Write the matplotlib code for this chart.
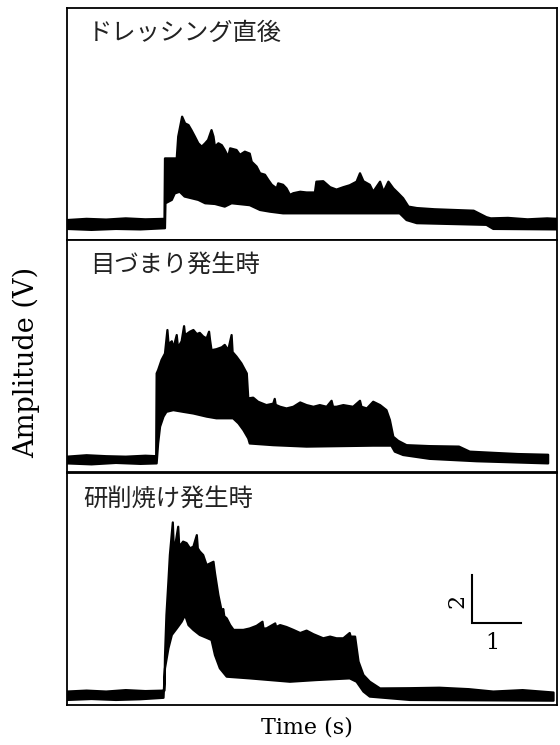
import matplotlib
matplotlib.use("Agg")
import matplotlib.pyplot as plt
import numpy as np

# --- data (time in s, amplitude in V) ---
titles = ["ドレッシング直後", "目づまり発生時", "研削焼け発生時"]

# panel 1: right after dressing (upper / lower envelope of the signal)
t1_up = [0, 0.4, 0.8, 1.2, 1.6, 1.99, 2.00, 2.24, 2.27, 2.35, 2.41, 2.48, 2.54, 2.61, 2.68,
         2.75, 2.82, 2.88, 2.95, 2.99, 3.02, 3.09, 3.16, 3.22, 3.29, 3.33, 3.46, 3.53, 3.63,
         3.73, 3.77, 3.87, 3.94, 4.04, 4.11, 4.18, 4.28, 4.31, 4.41, 4.48, 4.55, 4.62, 4.76,
         4.89, 5.06, 5.09, 5.23, 5.37, 5.50, 5.64, 5.77, 5.91, 5.98, 6.05, 6.18, 6.25, 6.39,
         6.46, 6.56, 6.66, 6.76, 6.86, 6.97, 7.14, 7.50, 7.90, 8.30, 8.56, 8.65, 9.00, 9.40,
         9.80, 10.0]
v1_up = [0.83, 0.88, 0.85, 0.90, 0.86, 0.88, 3.40, 3.40, 4.31, 5.14, 4.86, 4.79, 4.58, 4.31, 4.03,
         3.89, 4.03, 4.17, 4.58, 4.31, 3.89, 4.03, 3.95, 3.75, 3.47, 3.82, 3.75, 3.55, 3.68,
         3.60, 3.26, 3.06, 2.78, 2.72, 2.50, 2.30, 2.15, 2.36, 2.30, 2.15, 1.88, 1.95, 2.01,
         1.98, 1.98, 2.43, 2.45, 2.20, 2.10, 2.20, 2.28, 2.43, 2.78, 2.45, 2.30, 2.01, 2.43,
         2.01, 2.43, 2.15, 1.95, 1.74, 1.39, 1.33, 1.28, 1.25, 1.22, 0.95, 0.90, 0.92, 0.86,
         0.90, 0.88]
t1_lo = [0, 0.5, 1.0, 1.5, 2.00, 2.01, 2.14, 2.20, 2.30, 2.40, 2.54, 2.68, 2.82, 3.02, 3.22,
         3.36, 3.73, 3.94, 4.14, 4.41, 6.79, 6.93, 7.14, 8.56, 8.70, 10.0]
v1_lo = [0.46, 0.42, 0.46, 0.44, 0.49, 1.53, 1.67, 1.94, 2.01, 1.81, 1.74, 1.67, 1.53, 1.50, 1.39,
         1.53, 1.45, 1.25, 1.18, 1.11, 1.11, 0.83, 0.70, 0.63, 0.46, 0.44]

# panel 2: wheel loading
t2_up = [0, 0.4, 0.8, 1.2, 1.6, 1.82, 1.83, 1.86, 1.93, 2.00, 2.05, 2.07, 2.09, 2.14, 2.17,
         2.24, 2.26, 2.27, 2.34, 2.39, 2.41, 2.44, 2.51, 2.58, 2.65, 2.71, 2.78, 2.85, 2.90,
         2.92, 2.95, 3.05, 3.16, 3.22, 3.29, 3.36, 3.38, 3.46, 3.56, 3.67, 3.70, 3.80, 3.90,
         4.07, 4.21, 4.24, 4.26, 4.35, 4.48, 4.62, 4.76, 4.89, 5.03, 5.16, 5.30, 5.40, 5.43,
         5.50, 5.64, 5.84, 5.98, 6.01, 6.12, 6.25, 6.39, 6.52, 6.59, 6.66, 6.76, 6.93, 7.40,
         8.00, 8.22, 8.70, 9.20, 9.82]
v2_up = [0.64, 0.70, 0.66, 0.64, 0.68, 0.66, 4.11, 4.25, 4.67, 4.94, 5.92, 5.40, 5.36, 5.45, 5.15,
         5.71, 5.30, 5.20, 5.45, 6.08, 5.70, 5.75, 5.85, 5.92, 5.75, 5.80, 5.65, 5.57, 5.85,
         5.50, 5.08, 5.12, 5.20, 5.30, 5.08, 5.71, 5.00, 4.81, 4.53, 4.11, 3.07, 3.10, 2.93,
         2.79, 2.85, 3.05, 2.80, 2.72, 2.65, 2.72, 2.90, 2.79, 2.72, 2.79, 2.72, 2.97, 2.72,
         2.72, 2.79, 2.72, 2.97, 2.72, 2.65, 2.93, 2.79, 2.58, 2.17, 1.47, 1.30, 1.12, 1.08,
         1.06, 0.85, 0.80, 0.75, 0.72]
t2_lo = [0, 0.5, 1.0, 1.5, 1.83, 1.86, 1.90, 1.97, 2.03, 2.17, 2.37, 2.58, 2.85, 3.05, 3.39,
         3.50, 3.60, 3.70, 3.73, 4.21, 4.89, 6.25, 6.62, 6.69, 6.86, 7.40, 8.36, 9.82]
v2_lo = [0.36, 0.32, 0.38, 0.34, 0.36, 1.19, 1.89, 2.31, 2.51, 2.58, 2.51, 2.44, 2.31, 2.24, 2.24,
         2.03, 1.75, 1.40, 1.19, 1.12, 1.06, 1.10, 1.10, 0.85, 0.71, 0.55, 0.45, 0.36]

# panel 3: grinding burn
t3_up = [0, 0.4, 0.8, 1.2, 1.6, 1.99, 2.00, 2.03, 2.07, 2.10, 2.16, 2.18, 2.20, 2.27, 2.29,
         2.32, 2.37, 2.44, 2.51, 2.58, 2.65, 2.67, 2.71, 2.78, 2.85, 2.92, 2.99, 3.02, 3.09,
         3.16, 3.19, 3.21, 3.26, 3.33, 3.40, 3.60, 3.73, 3.87, 3.99, 4.01, 4.07, 4.25, 4.27,
         4.35, 4.48, 4.62, 4.76, 4.89, 5.03, 5.23, 5.37, 5.50, 5.64, 5.77, 5.79, 5.88, 5.95,
         6.05, 6.18, 6.39, 7.00, 7.60, 8.20, 8.70, 9.30, 9.93]
v3_up = [0.56, 0.60, 0.56, 0.62, 0.58, 0.60, 2.00, 3.75, 5.14, 6.25, 7.61, 6.53, 6.53, 7.43, 6.67,
         6.67, 6.81, 6.75, 6.53, 6.60, 7.08, 6.53, 6.40, 6.25, 5.83, 5.90, 5.97, 5.50, 4.58,
         3.89, 4.00, 3.70, 3.61, 3.33, 3.13, 3.13, 3.19, 3.30, 3.47, 3.19, 3.19, 3.40, 3.25,
         3.33, 3.25, 3.13, 3.00, 3.10, 2.95, 2.78, 2.85, 2.78, 2.78, 3.00, 2.85, 2.85, 1.81,
         1.25, 0.97, 0.69, 0.70, 0.72, 0.66, 0.56, 0.62, 0.52]
t3_lo = [0, 0.5, 1.0, 1.5, 1.97, 2.00, 2.07, 2.14, 2.24, 2.34, 2.41, 2.48, 2.58, 2.71, 2.85,
         2.95, 3.02, 3.12, 3.26, 3.73, 4.55, 5.09, 5.77, 5.91, 6.05, 6.18, 7.00, 9.93]
v3_lo = [0.21, 0.25, 0.21, 0.24, 0.30, 1.53, 2.36, 2.92, 3.19, 3.47, 3.75, 3.33, 3.13, 2.92, 2.80,
         2.71, 2.08, 1.53, 1.18, 1.11, 0.97, 1.04, 1.11, 0.97, 0.56, 0.35, 0.21, 0.18]

# scale bar (s, V)
bar_t0, bar_v0 = 8.27, 3.42
bar_dt, bar_dv = 1, 2

panels = [(t1_up, v1_up, t1_lo, v1_lo),
          (t2_up, v2_up, t2_lo, v2_lo),
          (t3_up, v3_up, t3_lo, v3_lo)]

fig = plt.figure(figsize=(5.6, 7.45), dpi=100)
bottoms = [0.6779, 0.3664, 0.0537]
title_pos = [(0.043, 0.893), (0.047, 0.893), (0.033, 0.887)]

axes = []
for i, (tu, vu, tl, vl) in enumerate(panels):
    assert len(tu) == len(vu) and len(tl) == len(vl)
    ax = fig.add_axes([0.1196, bottoms[i], 0.875, 0.3114])
    # signal band: upper envelope forward, lower envelope back
    xs = np.concatenate([tu, tl[::-1]])
    ys = np.concatenate([vu, vl[::-1]])
    ax.fill(xs, ys, facecolor="black", edgecolor="black", linewidth=1.6, joinstyle="round")
    ax.set_xlim(0, 10)
    ax.set_ylim(0, 9.67)
    ax.set_xticks([])
    ax.set_yticks([])
    for s in ax.spines.values():
        s.set_linewidth(1.3)
    ax.text(title_pos[i][0], title_pos[i][1], titles[i], transform=ax.transAxes,
            ha="left", va="center", fontsize=17.5, family=["Noto Sans CJK JP", "DejaVu Sans"],
            color="#222222")
    axes.append(ax)

ax3 = axes[2]
ax3.plot([bar_t0, bar_t0, bar_t0 + bar_dt], [bar_v0 + bar_dv, bar_v0, bar_v0],
         color="black", linewidth=1.5, solid_joinstyle="miter")
ax3.text(bar_t0 - 0.3, bar_v0 + bar_dv / 2 - 0.1, str(bar_dv), rotation=90,
         ha="center", va="center", fontsize=16, family="DejaVu Serif")
ax3.text(bar_t0 + bar_dt / 2 - 0.08, bar_v0 - 0.85, str(bar_dt),
         ha="center", va="center", fontsize=16, family="DejaVu Serif")

fig.text(0.048, 0.514, "Amplitude (V)", rotation=90, ha="center", va="center",
         fontsize=19.5, family="DejaVu Serif")
fig.text(0.548, 0.024, "Time (s)", ha="center", va="center",
         fontsize=16, family="DejaVu Serif")

fig.savefig("out.png", dpi=100)
